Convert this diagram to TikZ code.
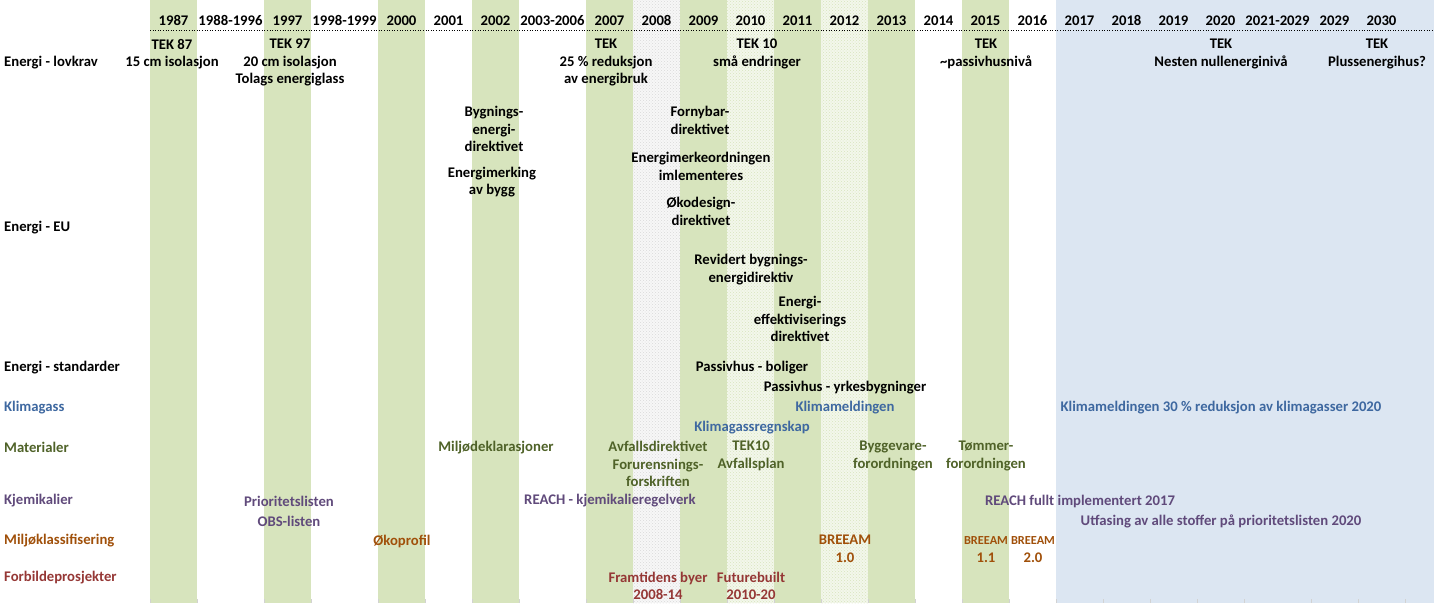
\documentclass[tikz,border=0pt]{standalone}
\usepackage{fontspec}
\setmainfont{Carlito}
\usetikzlibrary{patterns}
\definecolor{colgreen}{RGB}{215,228,189}
\definecolor{colblue}{RGB}{220,230,242}
\definecolor{klima}{RGB}{62,104,160}
\definecolor{mater}{RGB}{79,98,40}
\definecolor{kjemi}{RGB}{96,74,123}
\definecolor{miljo}{RGB}{160,80,10}
\definecolor{forbi}{RGB}{149,55,53}

\begin{document}
\begin{tikzpicture}[x=1pt,y=-1pt,
    txt/.style={inner sep=0pt,align=center,
                font=\fontsize{14.7}{17.5}\selectfont\bfseries},
    small/.style={txt,font=\fontsize{12.3}{17.5}\selectfont\bfseries},
    rowlbl/.style={txt,anchor=west},
    yearlbl/.style={txt,anchor=base}]
    \useasboundingbox (0,0) rectangle (1434,603);
    % year columns
    \fill[colblue] (1056,0) rectangle (1434,603);
    \foreach \l/\r in {150/197,264/311,378/425,472/519,586/633,
                       680/727,774/821,868/915,962/1009}
      \fill[colgreen] (\l,0) rectangle (\r,603);
    \fill[colgreen!30] (727,0) rectangle (774,603);
    \fill[colgreen!30] (821,0) rectangle (868,603);
    \fill[gray!6] (633,0) rectangle (680,603);
    \foreach \l/\r/\c in {633/680/gray!30,727/774/colgreen,821/868/colgreen}
      \fill[pattern=crosshatch dots,pattern color=\c] (\l,0) rectangle (\r,603);
    \foreach \x in {150,197,264,311,378,425,472,519,586,633,680,727,774,
                    821,868,915,962,1009,1056,1103,1150,1197,1244,1311,1358,1405}
      \draw[gray!35] (\x,599) -- (\x,603);
    % header
    \foreach \l/\r/\yr in {150/197/1987,197/264/1988-1996,264/311/1997,
        311/378/1998-1999,378/425/2000,425/472/2001,472/519/2002,
        519/586/2003-2006,586/633/2007,633/680/2008,680/727/2009,
        727/774/2010,774/821/2011,821/868/2012,868/915/2013,915/962/2014,
        962/1009/2015,1009/1056/2016,1056/1103/2017,1103/1150/2018,
        1150/1197/2019,1197/1244/2020,1244/1311/2021-2029,
        1311/1358/2029,1358/1405/2030}
      \node[yearlbl] (y\yr) at ({(\l+\r)/2},25.5) {\yr};
    \draw[dotted,semithick] (150,30.5) -- (1434,30.5);

    % row labels
    \node[rowlbl] (rlov)   at (4,63)  {Energi - lovkrav};
    \node[rowlbl] (reu)    at (4,228) {Energi - EU};
    \node[rowlbl] (rstd)   at (4,368) {Energi - standarder};
    \node[rowlbl,klima] (rklima) at (4,408) {Klimagass};
    \node[rowlbl,mater] (rmat)   at (4,447) {Materialer};
    \node[rowlbl,kjemi] (rkjem)  at (4,501) {Kjemikalier};
    \node[rowlbl,miljo] (rmiljo) at (4,541) {Miljøklassifisering};
    \node[rowlbl,forbi] (rforb)  at (4,578) {Forbildeprosjekter};

    % Energi - lovkrav
    \node[txt] (tek87) at (172,54)   {TEK 87\\15 cm isolasjon};
    \node[txt] (tek97) at (290,62.5) {TEK 97\\20 cm isolasjon\\Tolags energiglass};
    \node[txt] (tek07) at (606,62.5) {TEK\\25 \% reduksjon\\av energibruk};
    \node[txt] (tek10) at (757,54)   {TEK 10\\små endringer};
    \node[txt] (tek15) at (986,54)   {TEK\\\textasciitilde passivhusnivå};
    \node[txt] (tek20) at (1221,54)  {TEK\\Nesten nullenerginivå};
    \node[txt] (tek30) at (1377,54)  {TEK\\Plussenergihus?};

    % Energi - EU
    \node[txt] (bygdir)  at (494,129)   {Bygnings-\\energi-\\direktivet};
    \node[txt] (merking) at (492,182)   {Energimerking\\av bygg};
    \node[txt] (fornyb)  at (700,120.5) {Fornybar-\\direktivet};
    \node[txt] (merkord) at (701,166.5) {Energimerkeordningen\\imlementeres};
    \node[txt] (okodes)  at (701,211.5) {Økodesign-\\direktivet};
    \node[txt] (revbyg)  at (751,269.5) {Revidert bygnings-\\energidirektiv};
    \node[txt] (effdir)  at (800,319)   {Energi-\\effektiviserings\\direktivet};

    % Energi - standarder
    \node[txt] (pboli) at (752,368) {Passivhus - boliger};
    \node[txt] (pyrke) at (845,388) {Passivhus - yrkesbygninger};

    % Klimagass
    \node[txt,klima] (klmeld) at (845,408)  {Klimameldingen};
    \node[txt,klima] (klregn) at (752,428)  {Klimagassregnskap};
    \node[txt,klima] (kl2020) at (1221,408) {Klimameldingen 30 \% reduksjon av klimagasser 2020};

    % Materialer
    \node[txt,mater] (mdekl)  at (496,448)   {Miljødeklarasjoner};
    \node[txt,mater] (avfdir) at (658,464)   {Avfallsdirektivet\\Forurensnings-\\forskriften};
    \node[txt,mater] (avfpl)  at (751,456) {TEK10\\Avfallsplan};
    \node[txt,mater] (byggv)  at (893,456) {Byggevare-\\forordningen};
    \node[txt,mater] (tommer) at (986,456) {Tømmer-\\forordningen};

    % Kjemikalier
    \node[txt,kjemi] (prior)  at (289,501)  {Prioritetslisten};
    \node[txt,kjemi] (obs)    at (289,521)  {OBS-listen};
    \node[txt,kjemi] (reach)  at (610,501)  {REACH - kjemikalieregelverk};
    \node[txt,kjemi] (reachf) at (1080,501) {REACH fullt implementert 2017};
    \node[txt,kjemi] (utfas)  at (1221,521) {Utfasing av alle stoffer på prioritetslisten 2020};

    % Miljoklassifisering
    \node[txt,miljo] (okopro) at (402,541)   {Økoprofil};
    \node[txt,miljo] (bre10)  at (845,549) {BREEAM\\1.0};
    \node[small,miljo] (bre11) at (986,549.5)  {BREEAM\\\fontsize{14.7}{17.5}\selectfont 1.1};
    \node[small,miljo] (bre20) at (1033,549.5) {BREEAM\\\fontsize{14.7}{17.5}\selectfont 2.0};

    % Forbildeprosjekter
    \node[txt,forbi] (framt)  at (658,586) {Framtidens byer\\2008-14};
    \node[txt,forbi] (future) at (751,586) {Futurebuilt\\2010-20};
  \end{tikzpicture}
\end{document}
